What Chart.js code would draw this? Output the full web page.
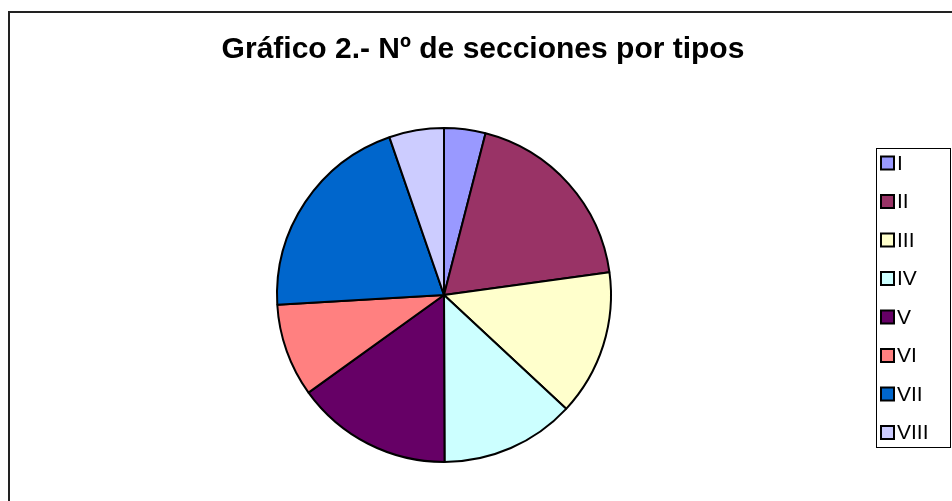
<!DOCTYPE html>
<html>
<head>
<meta charset="utf-8">
<script src="https://cdn.jsdelivr.net/npm/chart.js@4.4.0/dist/chart.umd.min.js"></script>
<style>
html,body{margin:0;padding:0;background:#fff;}
#wrap{position:relative;width:952px;height:501px;}
</style>
</head>
<body>
<div id="wrap"><canvas id="c" width="952" height="501"></canvas></div>
<script>
const titleText = 'Gráfico 2.- Nº de secciones por tipos';
const categories = ['I','II','III','IV','V','VI','VII','VIII'];
const values = [4.0, 18.8, 14.1, 13.0, 15.1, 9.0, 20.6, 5.3];
const colors = ['#9999FF','#993366','#FFFFCC','#CCFFFF','#660066','#FF8080','#0066CC','#CCCCFF'];

const frame = {
  id: 'frame',
  afterDraw(chart) {
    const ctx = chart.ctx;
    ctx.save();
    ctx.strokeStyle = '#222';
    ctx.lineWidth = 2;
    ctx.strokeRect(9, 12, 2000, 2000);
    ctx.fillStyle = '#000';
    ctx.font = 'bold 30px "Liberation Sans", Arial, sans-serif';
    ctx.textAlign = 'center';
    ctx.textBaseline = 'middle';
    ctx.fillText(titleText, 483, 50);
    ctx.strokeStyle = '#000';
    ctx.lineWidth = 1;
    ctx.strokeRect(876.5, 148.5, 74, 299);
    const labels = chart.data.labels;
    const bg = chart.data.datasets[0].backgroundColor;
    ctx.textAlign = 'left';
    ctx.font = '21px "Liberation Sans", Arial, sans-serif';
    labels.forEach((l, i) => {
      const y = 163 + i * 38.5;
      ctx.fillStyle = bg[i];
      ctx.fillRect(881, y - 6.5, 13, 13);
      ctx.lineWidth = 2;
      ctx.strokeStyle = '#000';
      ctx.strokeRect(881, y - 6.5, 13, 13);
      ctx.fillStyle = '#000';
      ctx.fillText(l, 897, y + 1);
    });
    ctx.restore();
  }
};

new Chart(document.getElementById('c'), {
  type: 'pie',
  data: {
    labels: categories,
    datasets: [{
      data: values,
      backgroundColor: colors,
      borderColor: '#000',
      borderWidth: 2,
      hoverOffset: 0
    }]
  },
  options: {
    responsive: false,
    animation: false,
    layout: { padding: { top: 127, bottom: 38, left: 276, right: 340 } },
    plugins: { legend: { display: false }, title: { display: false }, tooltip: { enabled: false } }
  },
  plugins: [frame]
});
</script>
</body>
</html>
